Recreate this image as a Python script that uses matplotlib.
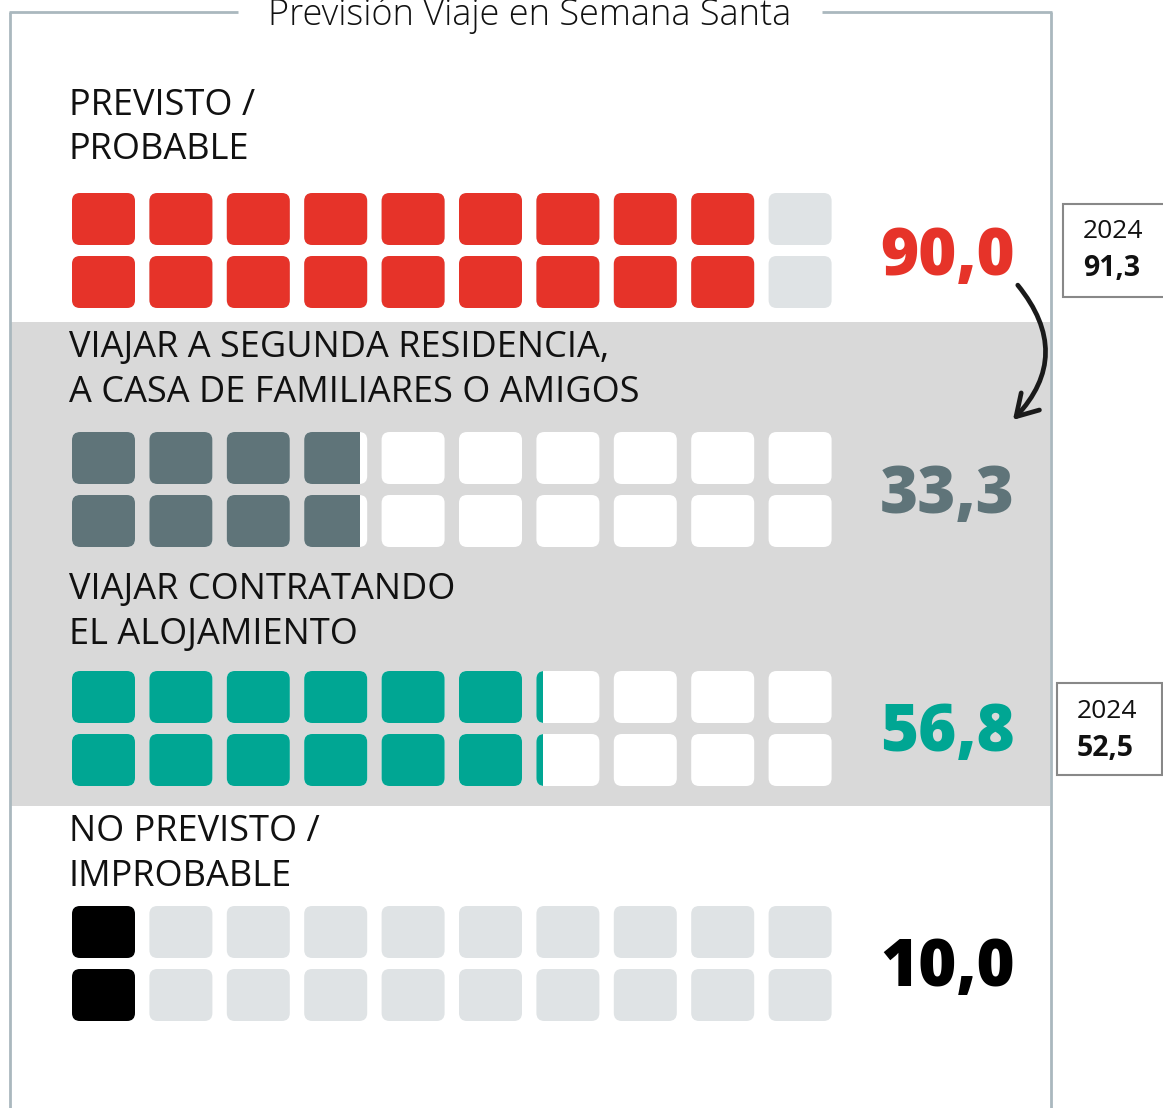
import matplotlib
matplotlib.use('Agg')
import matplotlib.pyplot as plt
from matplotlib.patches import FancyBboxPatch, Rectangle, FancyArrowPatch

title = "Previsión Viaje en Semana Santa"
labels = ["PREVISTO /\nPROBABLE",
          "VIAJAR A SEGUNDA RESIDENCIA,\nA CASA DE FAMILIARES O AMIGOS",
          "VIAJAR CONTRATANDO\nEL ALOJAMIENTO",
          "NO PREVISTO /\nIMPROBABLE"]
values = [90.0, 33.3, 56.8, 10.0]
value_labels = ["90,0", "33,3", "56,8", "10,0"]
filled_columns = [9.0, 3.89, 6.1, 1.0]   # filled squares per row
colors = ["#e63329", "#5f7479", "#00a693", "#000000"]
empty_colors = ["#dfe3e5", "#ffffff", "#ffffff", "#dfe3e5"]
prev_year = "2024"
prev_index = [0, 2]
prev_values = ["91,3", "52,5"]

W, H = 1163, 1108
fig = plt.figure(figsize=(W / 100, H / 100), dpi=100)
ax = fig.add_axes([0, 0, 1, 1])
ax.set_xlim(0, W)
ax.set_ylim(H, 0)
ax.axis('off')

FONT = 'Open Sans'
frame_c = '#aab8be'

# grey band
ax.add_patch(Rectangle((10, 322), 1040, 484, facecolor='#d9d9d9', edgecolor='none', zorder=0))
# frame
ax.plot([10, 10], [12, H + 5], color=frame_c, lw=2, solid_capstyle='butt')
ax.plot([1051, 1051], [12, H + 5], color=frame_c, lw=2, solid_capstyle='butt')
ax.plot([9, 238], [12, 12], color=frame_c, lw=2, solid_capstyle='butt')
ax.plot([822, 1052], [12, 12], color=frame_c, lw=2, solid_capstyle='butt')
ax.text(530, 15, title, ha='center', va='center', fontsize=26, family=FONT,
        fontweight='light', color='#111111')

label_y = [128, 370.5, 612.5, 854.5]
sq_top = [193, 432, 671, 906]
x0, pitch, sw, sh, rpitch = 72, 77.4, 63, 52, 63
num_y = [258, 496, 734, 969]

for i in range(4):
    ax.text(69, label_y[i], labels[i], ha='left', va='center', fontsize=26,
            family=FONT, color='#111111', linespacing=1.32)
    for r in range(2):
        y = sq_top[i] + r * rpitch
        for c in range(10):
            x = x0 + c * pitch
            bg = FancyBboxPatch((x, y), sw, sh, boxstyle='round,pad=0,rounding_size=8',
                                facecolor=empty_colors[i], edgecolor='none', zorder=2)
            ax.add_patch(bg)
            frac = min(max(filled_columns[i] - c, 0), 1)
            if frac > 0:
                fg = FancyBboxPatch((x, y), sw, sh, boxstyle='round,pad=0,rounding_size=8',
                                    facecolor=colors[i], edgecolor='none', zorder=3)
                ax.add_patch(fg)
                if frac < 1:
                    clip = Rectangle((x, y - 2), sw * frac, sh + 4, transform=ax.transData)
                    fg.set_clip_path(clip)
    ax.text(880, num_y[i], value_labels[i], ha='left', va='center', fontsize=47,
            family=FONT, fontweight='heavy', color=colors[i])

# previous year boxes
boxes = [(1063, 204, 110, 93), (1057, 683, 105, 92)]
for (bx, by, bw, bh), idx, pv in zip(boxes, prev_index, prev_values):
    ax.add_patch(Rectangle((bx, by), bw, bh, facecolor='white', edgecolor='#888888', lw=1.5, zorder=4))
    ax.text(bx + 20, by + 28, prev_year, ha='left', va='center', fontsize=19, family=FONT,
            color='#111111', zorder=5)
    ax.text(bx + 20, by + 65, pv, ha='left', va='center', fontsize=20.5, family=FONT,
            fontweight='bold', color='#111111', zorder=5)

arrow = FancyArrowPatch((1016, 283), (1011, 422), connectionstyle='arc3,rad=-0.45',
                        arrowstyle='->,head_length=15,head_width=9', lw=3.4,
                        color='#1a1a1a', zorder=6, mutation_scale=1)
ax.add_patch(arrow)

fig.savefig('out.png', dpi=100)
